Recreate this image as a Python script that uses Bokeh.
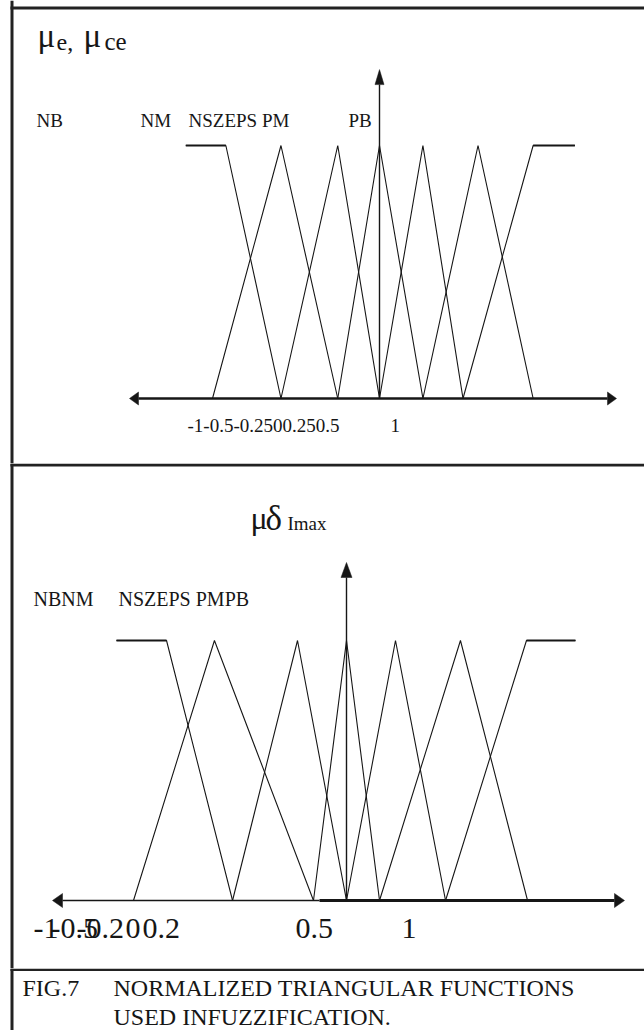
from bokeh.plotting import figure
from bokeh.models import Range1d
from bokeh.layouts import column
from bokeh.embed import file_html
from bokeh.resources import INLINE
from bokeh.core.properties import value

PAGE_W = 644
INK = "#161616"
SERIF = "Liberation Serif"
BASELINE_SHIFT = 0.35  # svg text sits this many em below the requested baseline

# ---- fuzzy sets ---------------------------------------------------------
set_names = ["NB", "NM", "NS", "ZE", "PS", "PM", "PB"]

# membership grade at each breakpoint
grade_left_shoulder = [1, 1, 0]
grade_triangle = [0, 1, 0]
grade_right_shoulder = [0, 1, 1]

# breakpoints of the error / change-of-error sets
e_NB = [-1.16, -0.92, -0.59]
e_NM = [-1.00, -0.59, -0.25]
e_NS = [-0.59, -0.25, 0.00]
e_ZE = [-0.25, 0.00, 0.26]
e_PS = [0.00, 0.26, 0.50]
e_PM = [0.26, 0.59, 0.92]
e_PB = [0.50, 0.92, 1.17]

# breakpoints of the delta-Imax sets
d_NB = [-1.08, -0.845, -0.535]
d_NM = [-1.00, -0.62, -0.155]
d_NS = [-0.535, -0.23, 0.00]
d_ZE = [-0.155, 0.00, 0.155]
d_PS = [0.00, 0.23, 0.465]
d_PM = [0.155, 0.535, 0.85]
d_PB = [0.465, 0.845, 1.075]

e_tick_labels = ["-1", "-0.5", "-0.25", "0", "0.25", "0.5", "1"]
d_tick_labels = ["-1", "-0.5", "-0.2", "0", "0.2", "0.5", "1"]
e_set_labels = ["NB", "NM", "NSZEPS PM", "PB"]
d_set_labels = ["NBNM", "NSZEPS PMPB"]
fig_number = "FIG.7"
caption_lines = ["NORMALIZED TRIANGULAR FUNCTIONS", "USED INFUZZIFICATION."]

grades = [grade_left_shoulder] + [grade_triangle] * 5 + [grade_right_shoulder]


def panel(top, height, ox, oy, sx, sy):
    """A bare figure covering page rows top..top+height.
    ox, oy: page pixel position of the data origin; sx, sy: pixels per unit."""
    p = figure(width=PAGE_W, height=height,
               x_range=Range1d(-ox / sx, (PAGE_W - ox) / sx),
               y_range=Range1d((oy - (top + height)) / sy, (oy - top) / sy),
               output_backend="svg", toolbar_location=None,
               x_axis_type=None, y_axis_type=None, min_border=0,
               outline_line_color=None, background_fill_color="white",
               border_fill_color="white")
    fx = lambda px: (px - ox) / sx
    fy = lambda py: (oy - py) / sy
    p.segment(x0=[fx(11.5)], y0=[fy(top)], x1=[fx(11.5)], y1=[fy(top + height)],
              line_color="#222222", line_width=3)
    return p, fx, fy


def put_text(p, fx, fy, xs, baseline, texts, size):
    """Left-aligned serif text; xs and baseline are page pixels."""
    y = fy(baseline - BASELINE_SHIFT * size)
    p.text(x=[fx(v) for v in xs], y=[y] * len(xs), text=texts,
           text_font=value(SERIF), text_font_size=value(f"{size}px"),
           text_color=INK, text_baseline="alphabetic", text_align="left")


def draw_sets(p, breaks):
    p.multi_line(xs=breaks, ys=grades, line_color=INK, line_width=1.1)
    # flat tops of the shoulder sets
    p.multi_line(xs=[breaks[0][:2], breaks[-1][1:]], ys=[[1, 1], [1, 1]],
                 line_color=INK, line_width=2)


def draw_axes(p, sx, sy, x_left, x_right, y_top, hl, hw, vl, vw, shaft_split=None):
    # horizontal axis with arrow heads at both ends
    if shaft_split is None:
        p.line([x_left + hl / sx, x_right - hl / sx], [0, 0], line_color=INK, line_width=2.6)
    else:
        p.line([x_left + hl / sx, shaft_split], [0, 0], line_color=INK, line_width=1.6)
        p.line([shaft_split, x_right - hl / sx], [0, 0], line_color=INK, line_width=3)
    # vertical membership axis
    p.line([0, 0], [0, y_top - vl / sy], line_color=INK, line_width=1.4)
    hx = [[x_left, x_left + hl / sx, x_left + hl / sx],
          [x_right, x_right - hl / sx, x_right - hl / sx],
          [0, -vw / 2 / sx, vw / 2 / sx]]
    hy = [[0, hw / 2 / sy, -hw / 2 / sy],
          [0, hw / 2 / sy, -hw / 2 / sy],
          [y_top, y_top - vl / sy, y_top - vl / sy]]
    p.patches(xs=hx, ys=hy, fill_color=INK, line_color=INK, line_width=0.5)


# ---- panel 1: error / change of error -----------------------------------
p1, fx1, fy1 = panel(0, 463, 379, 398, 167, 253)
p1.segment(x0=[fx1(10)], y0=[fy1(7.5)], x1=[fx1(PAGE_W)], y1=[fy1(7.5)],
           line_color="#222222", line_width=3)
draw_axes(p1, 167, 253, fx1(129), fx1(616), 1.3, 9, 13, 15, 9)
draw_sets(p1, [e_NB, e_NM, e_NS, e_ZE, e_PS, e_PM, e_PB])

put_text(p1, fx1, fy1, [37, 83], 47, ["\u03bc", "\u03bc"], 33)
put_text(p1, fx1, fy1, [56], 50, ["e,"], 24)
put_text(p1, fx1, fy1, [104], 50, ["ce"], 25)
put_text(p1, fx1, fy1, [36, 140, 188, 348], 127, e_set_labels, 19)
put_text(p1, fx1, fy1, [187, 390], 432,
         ["".join(e_tick_labels[:-1]), e_tick_labels[-1]], 19)

# ---- panel 2: delta Imax ------------------------------------------------
p2, fx2, fy2 = panel(463, 505, 346, 900, 213, 260)
p2.segment(x0=[fx2(10)], y0=[fy2(464.5)], x1=[fx2(PAGE_W)], y1=[fy2(464.5)],
           line_color="#222222", line_width=3)
draw_axes(p2, 213, 260, fx2(52), fx2(624), 1.3, 10, 14, 15, 11, shaft_split=fx2(319))
draw_sets(p2, [d_NB, d_NM, d_NS, d_ZE, d_PS, d_PM, d_PB])

put_text(p2, fx2, fy2, [250], 529, ["\u03bc"], 32)
put_text(p2, fx2, fy2, [265], 530, ["\u03b4"], 35)
put_text(p2, fx2, fy2, [287], 530, ["Imax"], 19)
put_text(p2, fx2, fy2, [33, 50, 76, 125, 142, 295, 401], 938, d_tick_labels, 30)
put_text(p2, fx2, fy2, [33, 118], 605, d_set_labels, 20)

# ---- panel 3: caption ---------------------------------------------------
p3, fx3, fy3 = panel(968, 62, 0, 1030, 1, 1)
p3.segment(x0=[fx3(10)], y0=[fy3(969.2)], x1=[fx3(PAGE_W)], y1=[fy3(969.2)],
           line_color="#222222", line_width=2.6)
put_text(p3, fx3, fy3, [22, 113], 996, [fig_number, caption_lines[0]], 24)
put_text(p3, fx3, fy3, [113], 1025, [caption_lines[1]], 24)

page = column(p1, p2, p3, spacing=0)
open("out.html", "w").write(file_html(page, INLINE))
